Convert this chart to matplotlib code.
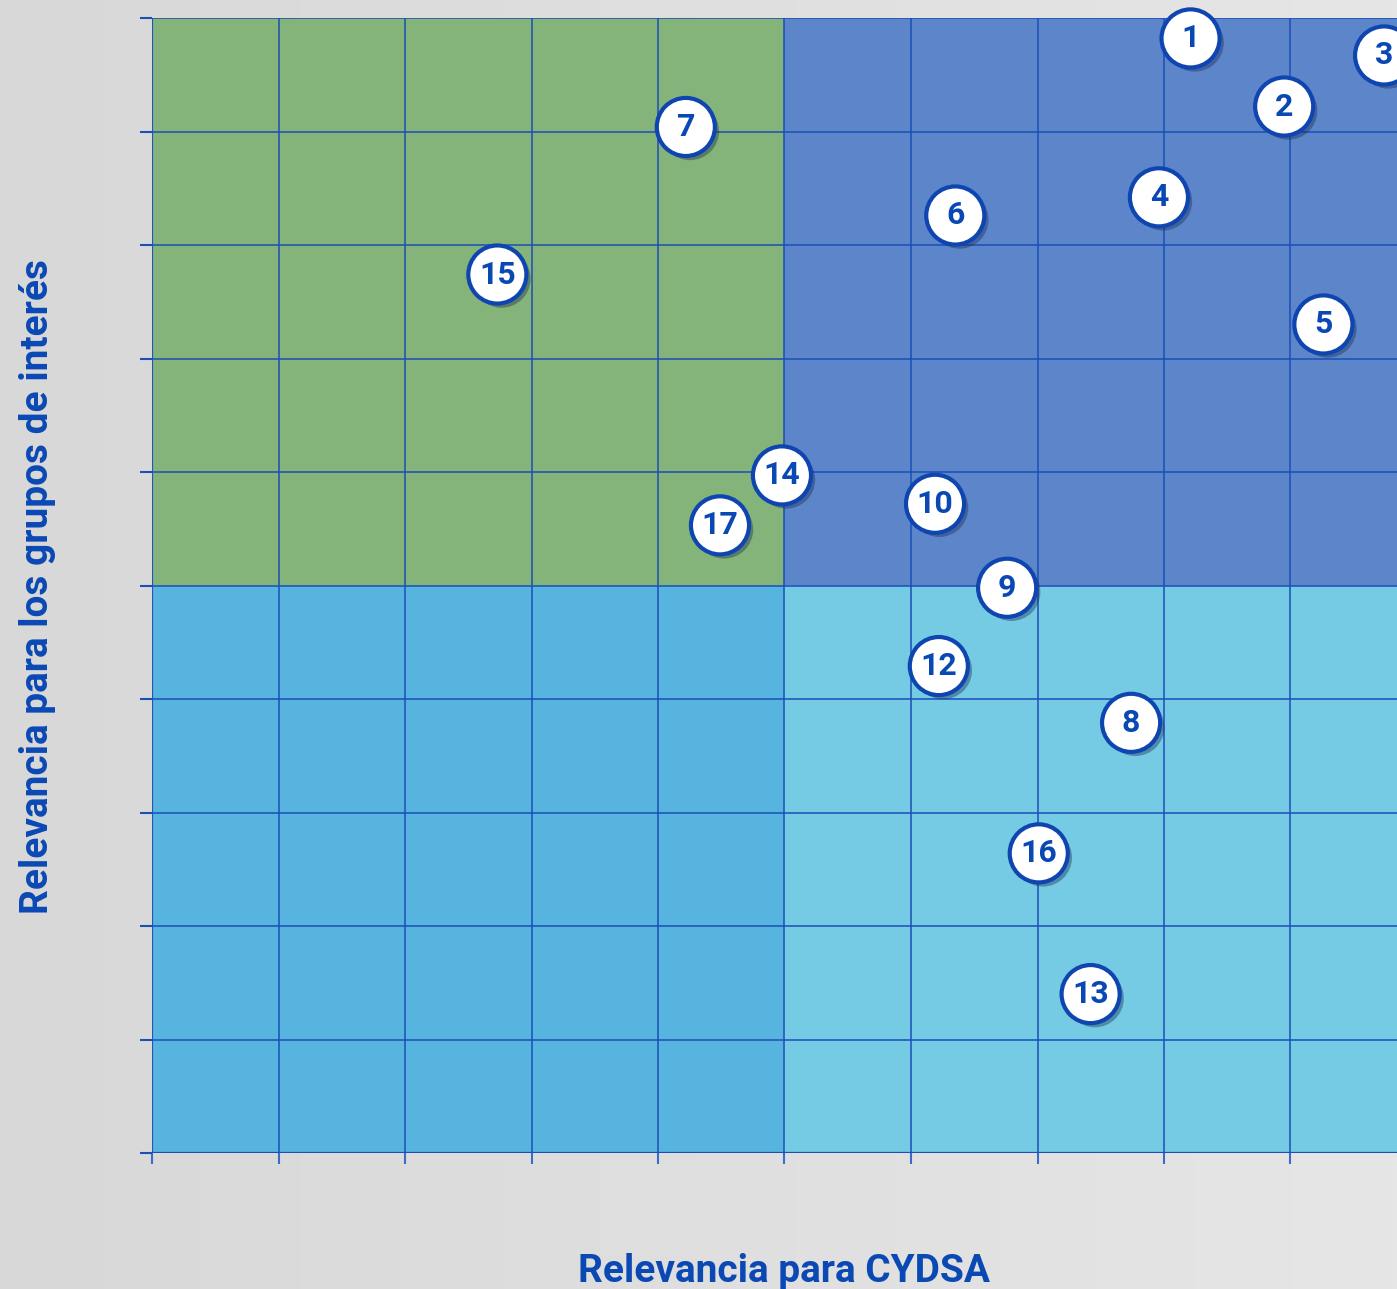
import numpy as np
import matplotlib.pyplot as plt
from matplotlib.patches import Rectangle
import matplotlib.patheffects as pe

# Materiality matrix: topic numbers and their positions
labels = ['1', '2', '3', '4', '5', '6', '7', '8', '9', '10',
          '12', '13', '14', '15', '16', '17']
x_cydsa = [8.21, 8.95, 9.74, 7.96, 9.26, 6.35, 4.22, 7.74, 6.76, 6.19,
           6.22, 7.42, 4.98, 2.73, 7.01, 4.49]
y_grupos = [9.82, 9.22, 9.67, 8.42, 7.30, 8.26, 9.04, 3.79, 4.98, 5.72,
            4.29, 1.40, 5.97, 7.74, 2.64, 5.53]

blue_txt = '#0a48b4'
line_col = '#1a4fb8'

fig = plt.figure(figsize=(13.97, 12.89), dpi=100)

# light gray background gradient
bg = fig.add_axes([0, 0, 1, 1], zorder=-10)
grad = np.linspace(0, 1, 256).reshape(1, -1)
bg.imshow(grad, extent=[0, 1, 0, 1], aspect='auto',
          cmap=plt.matplotlib.colors.LinearSegmentedColormap.from_list('g', ['#d8d8d8', '#e6e6e6']))
bg.axis('off')

ax = fig.add_axes([152 / 1397, 1 - 1153 / 1289, (1417 - 152) / 1397, (1153 - 18) / 1289])
ax.set_xlim(0, 10)
ax.set_ylim(0, 10)

# quadrants
ax.add_patch(Rectangle((0, 5), 5, 5, color='#84b47a', zorder=0))
ax.add_patch(Rectangle((5, 5), 5, 5, color='#5c86c9', zorder=0))
ax.add_patch(Rectangle((0, 0), 5, 5, color='#57b4df', zorder=0))
ax.add_patch(Rectangle((5, 0), 5, 5, color='#74cbe3', zorder=0))

ax.set_xticks(np.arange(0, 11))
ax.set_yticks(np.arange(0, 11))
ax.set_xticklabels([])
ax.set_yticklabels([])
ax.grid(True, color=line_col, linewidth=1.1, zorder=1)
ax.set_axisbelow(False)
ax.tick_params(axis='x', length=8, width=1.5, color='#3a6cc8', direction='out')
ax.tick_params(axis='y', length=8.5, width=1.5, color=line_col, direction='out')
for s in ax.spines.values():
    s.set_visible(False)
ax.axhline(0, color=line_col, linewidth=1.6, zorder=2)
ax.axvline(0, color='#3a6cc8', linewidth=1.6, zorder=2)

# numbered bubbles with a soft drop shadow
ax.scatter(x_cydsa, y_grupos, s=1750, facecolor='white', edgecolor='#0f45b0',
           linewidth=3, zorder=5, clip_on=False,
           path_effects=[pe.SimplePatchShadow(offset=(3, -3), shadow_rgbFace='#1a2a50', alpha=0.4),
                         pe.Normal()])
for lab, x, y in zip(labels, x_cydsa, y_grupos):
    ax.text(x, y, lab, ha='center', va='center', fontsize=23, fontweight='bold',
            family='Roboto', color=blue_txt, zorder=6)

fig.text(784 / 1397, 1 - 1271 / 1289, 'Relevancia para CYDSA', ha='center', va='center',
         fontsize=28, fontweight='bold', family='Roboto', color=blue_txt)
fig.text(38 / 1397, 1 - 587 / 1289, 'Relevancia para los grupos de interés', ha='center',
         va='center', rotation=90, fontsize=28, fontweight='bold', family='Roboto', color=blue_txt)

fig.savefig('out.png', dpi=100)
